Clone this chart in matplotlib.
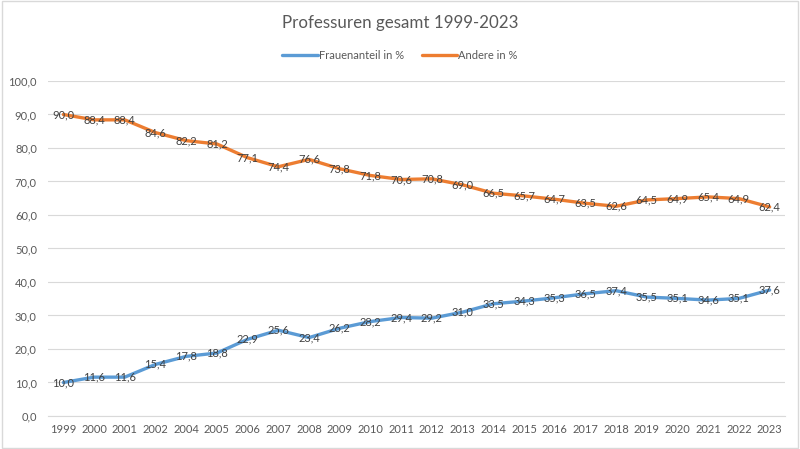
import matplotlib
matplotlib.use("Agg")
import matplotlib.pyplot as plt
from matplotlib.patches import Rectangle

years = ["1999", "2000", "2001", "2002", "2004", "2005", "2006", "2007", "2008",
         "2009", "2010", "2011", "2012", "2013", "2014", "2015", "2016", "2017",
         "2018", "2019", "2020", "2021", "2022", "2023"]
frauen = [10.0, 11.6, 11.6, 15.4, 17.8, 18.8, 22.9, 25.6, 23.4, 26.2, 28.2, 29.4,
          29.2, 31.0, 33.5, 34.3, 35.3, 36.5, 37.4, 35.5, 35.1, 34.6, 35.1, 37.6]
andere = [90.0, 88.4, 88.4, 84.6, 82.2, 81.2, 77.1, 74.4, 76.6, 73.8, 71.8, 70.6,
          70.8, 69.0, 66.5, 65.7, 64.7, 63.5, 62.6, 64.5, 64.9, 65.4, 64.9, 62.4]

plt.rcParams["font.family"] = ["Lato", "DejaVu Sans"]

fig = plt.figure(figsize=(8, 4.49), dpi=100)
ax = fig.add_axes([0.06, 0.0735, 0.92125, 0.7461])

x = list(range(len(years)))
ax.plot(x, frauen, color="#5B9BD5", lw=2.4, solid_joinstyle="round",
        solid_capstyle="round", label="Frauenanteil in %", zorder=3)
ax.plot(x, andere, color="#ED7D31", lw=2.4, solid_joinstyle="round",
        solid_capstyle="round", label="Andere in %", zorder=3)

for i in x:
    ax.text(i, frauen[i], f"{frauen[i]:.1f}".replace(".", ","), ha="center",
            va="center", fontsize=8, color="#404040", zorder=4)
    ax.text(i, andere[i], f"{andere[i]:.1f}".replace(".", ","), ha="center",
            va="center", fontsize=8, color="#404040", zorder=4)

ax.set_xlim(-0.5, len(years) - 0.5)
ax.set_ylim(0, 100)
ax.set_yticks(range(0, 101, 10))
ax.set_yticklabels([f"{v:.1f}".replace(".", ",") for v in range(0, 101, 10)])
ax.set_xticks(x)
ax.set_xticklabels(years)
ax.tick_params(axis="both", length=0, labelsize=8, colors="#595959")
ax.tick_params(axis="y", pad=8)
ax.tick_params(axis="x", pad=6)
ax.grid(axis="y", color="#D9D9D9", lw=0.8)
ax.set_axisbelow(True)
for s in ["top", "right", "left"]:
    ax.spines[s].set_visible(False)
ax.spines["bottom"].set_color("#D9D9D9")

fig.text(0.5, 0.948, "Professuren gesamt 1999-2023", ha="center", va="center",
         fontsize=12.2, color="#595959")
fig.legend(loc="center", bbox_to_anchor=(0.5, 0.877), ncol=2, frameon=False,
           fontsize=8, labelcolor="#595959", handlelength=3.2, columnspacing=1.6,
           handletextpad=0.1)

fig.patches.append(Rectangle((0.002, 0.003), 0.996, 0.994, transform=fig.transFigure,
                             fill=False, edgecolor="#D9D9D9", lw=1))

fig.savefig("out.png", dpi=100)
